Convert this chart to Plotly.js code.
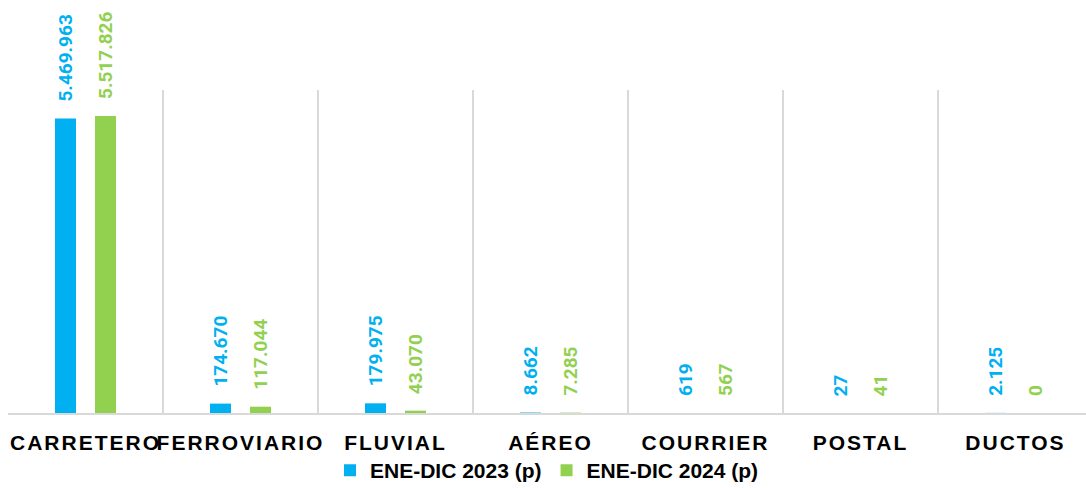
<!DOCTYPE html>
<html>
<head>
<meta charset="utf-8">
<script src="https://cdn.plot.ly/plotly-3.0.1.min.js"></script>
<style>
  html, body { margin: 0; padding: 0; background: #fff; }
  #chart { width: 1086px; height: 488px; }
  .xtick text { letter-spacing: 2px; }
</style>
</head>
<body>
<div id="chart"></div>
<script>
// Data
const categories = ["CARRETERO", "FERROVIARIO", "FLUVIAL", "AÉREO", "COURRIER", "POSTAL", "DUCTOS"];
const seriesNames = ["ENE-DIC 2023 (p)", "ENE-DIC 2024 (p)"];
const values2023 = [5469963, 174670, 179975, 8662, 619, 27, 2125];
const values2024 = [5517826, 117044, 43070, 7285, 567, 41, 0];
const colors = ["#00B0F0", "#92D050"];

function fmt(n) {
  return String(Math.round(n)).replace(/\B(?=(\d{3})+(?!\d))/g, ".");
}

const traces = [values2023, values2024].map((vals, i) => ({
  type: "bar",
  name: seriesNames[i],
  x: categories,
  y: vals,
  marker: { color: colors[i] },
  hoverinfo: "skip"
}));

const annotations = [];
[values2023, values2024].forEach((vals, s) => {
  vals.forEach((v, k) => {
    annotations.push({
      x: categories[k],
      y: v,
      xref: "x",
      yref: "y",
      text: fmt(v),
      textangle: -90,
      showarrow: false,
      xanchor: "center",
      yanchor: "bottom",
      xshift: s === 0 ? -20 : 20,
      yshift: 15,
      font: { family: "Roboto, 'Liberation Sans', sans-serif", size: 19, weight: "bold", color: colors[s] }
    });
  });
});

const layout = {
  width: 1086,
  height: 488,
  margin: { l: 8, r: 0, t: 90, b: 75, autoexpand: false },
  paper_bgcolor: "#ffffff",
  plot_bgcolor: "#ffffff",
  barmode: "group",
  bargap: 0.484,
  bargroupgap: 0.475,
  showlegend: true,
  legend: {
    orientation: "h",
    x: 0.5,
    xanchor: "center",
    y: -0.115,
    yanchor: "top",
    font: { family: "'Liberation Sans', Arial, sans-serif", size: 21, weight: "bold", color: "#000000" },
    traceorder: "normal"
  },
  xaxis: {
    type: "category",
    range: [-0.5, 6.455],
    tickson: "boundaries",
    tickangle: 0,
    automargin: false,
    showgrid: true,
    gridcolor: "#D9D9D9",
    gridwidth: 1.5,
    showline: true,
    linecolor: "#D9D9D9",
    linewidth: 2,
    ticks: "",
    ticklabelstandoff: 10,
    tickfont: { family: "'Liberation Sans', Arial, sans-serif", size: 21, weight: "bold", color: "#000000" },
    fixedrange: true
  },
  yaxis: {
    range: [0, 6000000],
    visible: false,
    showgrid: false,
    zeroline: false,
    fixedrange: true
  },
  annotations: annotations
};

Plotly.newPlot("chart", traces, layout, { staticPlot: true, displayModeBar: false });
</script>
</body>
</html>
